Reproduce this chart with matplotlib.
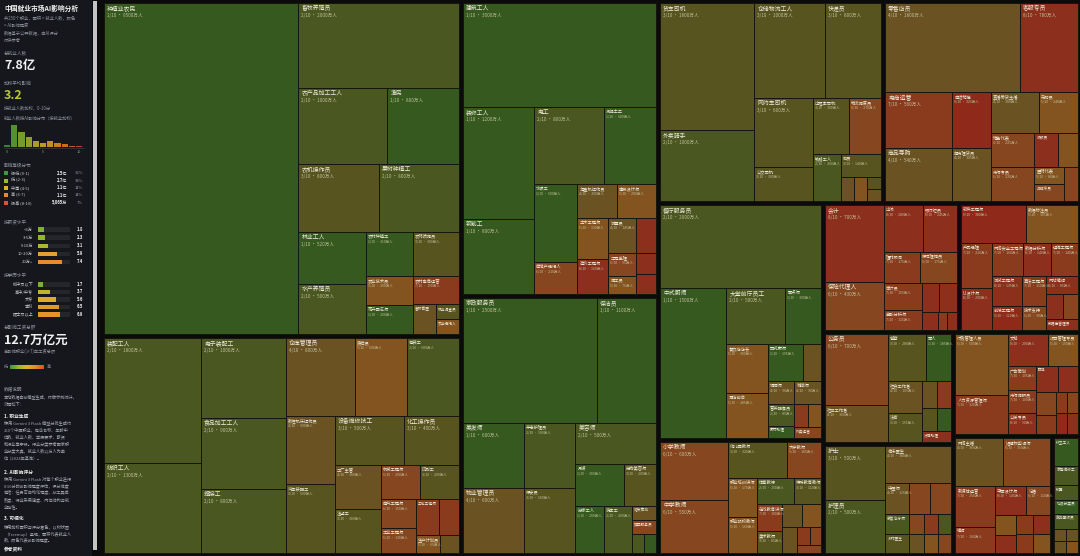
import matplotlib.pyplot as plt
from matplotlib.patches import Rectangle
from matplotlib.colors import LinearSegmentedColormap
import numpy as np

plt.rcParams['font.family'] = ['Noto Sans CJK SC', 'DejaVu Sans']

# ---------------- 数据（万人，AI影响评分 0-10） ----------------
agri_names = ['种植业农民', '畜牧养殖员', '农产品加工工人', '渔民', '农机操作员', '果树种植工', '林业工人', '水产养殖员',
              '农村种植工', '农药喷施员', '农业技术员', '花卉园艺师', '农村电商运营', '畜牧兽医', '林业调查员', '农业经纪人']
agri_scores = [1, 2, 2, 1, 3, 2, 1, 2, 1, 3, 5, 1, 7, 4, 3, 5]
agri_values = [9500, 2000, 1000, 800, 800, 800, 520, 500, 310, 300, 200, 200, 190, 100, 50, 50]

manu_names = ['装配工人', '纺织工人', '电子装配工', '食品加工工人', '焊接工', '仓库管理员', '质检员', '包装工', '数控机床操作员',
              '汽车装配工', '设备维修技工', '化工操作员', '工厂主管', '注塑工', '机械工程师', '印刷工', '电气工程师', '工业工程师',
              '工艺工程师', '模具设计师', '生产计划员', '安全员']
manu_scores = [2, 2, 2, 2, 2, 4, 5, 2, 4, 3, 3, 3, 4, 3, 6, 3, 6, 6, 7, 7, 5, 4]
manu_values = [1800, 1300, 1000, 900, 800, 800, 600, 600, 500, 500, 500, 400, 300, 300, 200, 200, 150, 130, 120, 105, 65, 50]

constr_names = ['建筑工人', '装修工人', '钢筋工', '电工', '混凝土工', '水暖工', '房地产经纪人', '起重机操作员', '建筑设计师',
                '土木工程师', '造价工程师', '测量员', '室内设计师', '工程监理', '施工员', 'BIM工程师', '工程预算员']
constr_scores = [1, 1, 1, 2, 1, 1, 6, 4, 5, 5, 8, 4, 8, 6, 5, 8, 8]
constr_values = [3000, 1200, 800, 800, 600, 500, 210, 200, 200, 190, 160, 145, 105, 95, 75, 60, 60]

serv_names = ['家政服务员', '保洁员', '美发师', '物业管理员', '养老护理员', '保安员', '美容师', '月嫂', '宠物美容师',
              '搬家工人', '洗车工', '婚庆策划', '殡葬服务员', '管道疏通工', '保姆']
serv_scores = [1, 1, 1, 4, 2, 3, 2, 1, 3, 1, 2, 4, 6, 2, 1]
serv_values = [2500, 1100, 600, 600, 500, 500, 500, 300, 200, 200, 200, 50, 50, 35, 35]

trans_names = ['货车司机', '外卖骑手', '仓储物流工人', '快递员', '网约车司机', '公交司机', '出租车司机', '物流调度员',
               '铁路工人', '船员', '航空地勤', '货运代理', '驾校教练', '叉车司机']
trans_scores = [3, 2, 3, 3, 3, 3, 3, 6, 2, 3, 4, 5, 3, 4]
trans_values = [1800, 1000, 1000, 800, 600, 300, 300, 270, 200, 140, 45, 45, 25, 25]

retail_names = ['零售店员', '客服专员', '电商运营', '商品导购', '电话销售', '超市理货员', '直播带货主播', '采购员', '销售代表',
                '市场专员', '收银员', '店长', '医药代表', '品牌专员', '买手']
retail_scores = [4, 8, 7, 4, 9, 4, 4, 5, 6, 6, 8, 5, 5, 6, 6]
retail_values = [1800, 780, 560, 540, 325, 305, 300, 240, 225, 220, 120, 100, 80, 75, 70]

rest_names = ['餐厅服务员', '中式厨师', '大堂前厅员工', '面点师', '餐饮店店长', '酒店前台', '西式厨师', '酒店管理员',
              '调酒师', '咖啡师', '营养配餐员', '厨师助理', '酒店预订员', '餐饮采购', '外卖运营']
rest_scores = [2, 1, 2, 1, 5, 5, 1, 4, 4, 4, 2, 1, 7, 5, 6]
rest_values = [2000, 1500, 500, 300, 300, 285, 195, 95, 90, 90, 85, 50, 50, 45, 45]

edu_names = ['小学教师', '中学教师', '幼儿园教师', '大学教师', '职业培训讲师', '职业院校教师', '体育教练', '特殊教育教师',
             '在线教育讲师', '美术教师', '音乐教师', '少儿编程教师', '家教', '教务管理', '留学顾问', '图书管理员']
edu_scores = [6, 6, 3, 6, 5, 5, 2, 3, 7, 3, 4, 5, 4, 7, 6, 6]
edu_values = [600, 550, 320, 185, 170, 160, 150, 110, 100, 85, 70, 65, 60, 35, 30, 30]

fin_names = ['会计', '保险代理人', '出纳', '银行柜员', '理财顾问', '保险理赔员', '审计员', '金融分析师', '信贷员',
             '证券经纪人', '税务专员', '精算师', '统计员']
fin_scores = [8, 6, 8, 8, 7, 6, 7, 7, 8, 8, 8, 7, 8]
fin_values = [700, 430, 280, 245, 175, 175, 155, 115, 75, 75, 45, 25, 25]

it_names = ['软件工程师', '数据标注员', '产品经理', 'UI设计师', '网络安全工程师', '数据分析师', '运维工程师', '测试工程师',
            '前端工程师', '算法工程师', '技术支持', '网站编辑', '全栈开发', 'IT项目经理', '数据库管理员']
it_scores = [9, 5, 7, 8, 7, 8, 7, 8, 9, 7, 6, 8, 8, 6, 8]
it_values = [380, 305, 220, 200, 160, 140, 140, 135, 110, 110, 90, 85, 65, 60, 50]

pub_names = ['公务员', '社区工作者', '警察', '军人', '社会工作者', '法官', '综合执法员', '档案管理员', '村干部', '消防员', '法律助理']
pub_scores = [6, 4, 3, 1, 4, 3, 4, 7, 3, 1, 8]
pub_values = [700, 360, 280, 185, 165, 155, 60, 60, 55, 50, 50]

med_names = ['护士', '护理员', '临床医生', '中医师', '药剂师', '医学检验师', '康复治疗师', '乡村医生', '影像医师',
             '口腔医生', '医院行政', '护工', '心理咨询师', '医疗器械销售']
med_scores = [3, 2, 4, 4, 6, 6, 2, 3, 6, 4, 7, 2, 5, 6]
med_values = [500, 500, 380, 115, 100, 100, 70, 70, 45, 45, 45, 40, 40, 40]

adm_names = ['行政管理人员', '人力资源管理师', '文秘', '项目管理专员', '广告策划', '市场调研员', '公关专员', '翻译',
             '办公室文员', '前台接待', '招聘专员', '法务专员', '培训专员', '速记员', '档案员']
adm_scores = [5, 7, 8, 5, 7, 7, 8, 8, 8, 6, 7, 7, 6, 9, 8]
adm_values = [500, 320, 200, 150, 105, 100, 90, 90, 80, 70, 60, 35, 35, 35, 35]

media_names = ['网络主播', '短视频剪辑师', '新媒体运营', '编辑', '平面设计师', '记者', '摄影师', '文案策划', '配音员',
               '插画师', '动画师', '主持人']
media_scores = [4, 6, 7, 7, 8, 6, 5, 8, 7, 8, 7, 5]
media_values = [360, 350, 250, 160, 145, 110, 65, 60, 50, 50, 50, 50]

other_names = ['环卫工人', '家电维修工', '锁匠', '垃圾分类员', '废品回收员', '修鞋匠', '裁缝', '钟表维修', '保管员']
other_scores = [1, 2, 2, 1, 2, 4, 4, 4, 5]
other_values = [115, 80, 60, 60, 60, 25, 25, 25, 25]

groups = [
    (agri_names, agri_scores, agri_values),
    (manu_names, manu_scores, manu_values),
    (constr_names, constr_scores, constr_values),
    (serv_names, serv_scores, serv_values),
    (trans_names, trans_scores, trans_values),
    (retail_names, retail_scores, retail_values),
    (rest_names, rest_scores, rest_values),
    (edu_names, edu_scores, edu_values),
    (fin_names, fin_scores, fin_values),
    (it_names, it_scores, it_values),
    (pub_names, pub_scores, pub_values),
    (med_names, med_scores, med_values),
    (adm_names, adm_scores, adm_values),
    (media_names, media_scores, media_values),
    (other_names, other_scores, other_values),
]

# 侧栏数据
hist_share = [3, 30, 20, 13, 8, 6, 8, 6, 4, 2, 1]
risk_labels = ['极低 (0-1)', '低 (2-3)', '中等 (4-5)', '高 (6-7)', '极高 (8-10)']
risk_people = ['2.5亿', '2.7亿', '1.1亿', '1.1亿', '5,065万']
risk_pct = ['32%', '34%', '14%', '14%', '7%']
salary_labels = ['<3万', '3-5万', '5-10万', '10-20万', '20万+']
salary_scores = [1.8, 2.3, 3.1, 5.9, 7.4]
edu_level_labels = ['初中及以下', '高中/中专', '大专', '本科', '硕士及以上']
edu_level_scores = [1.7, 3.7, 5.6, 6.5, 6.9]

# 颜色
tile_cmap = LinearSegmentedColormap.from_list('tile', [
    '#2f5a1e', '#35591f', '#4a5720', '#585420', '#6a5222', '#83541f',
    '#86461f', '#8a3a1d', '#8c2f1c', '#8f2a1b', '#922619'])
side_cmap = LinearSegmentedColormap.from_list('side', ['#3d9a3a', '#9ab92e', '#e0b030', '#e88a2a', '#e0502a'])
risk_colors = ['#3d9a3a', '#9ab92e', '#e0b030', '#e88a2a', '#e0502a']


def worst(row, side):
    s = sum(row)
    return max(side * side * max(row) / (s * s), s * s / (side * side * min(row)))


def squarify(values, x, y, w, h):
    order = sorted(range(len(values)), key=lambda i: -values[i])
    total = float(sum(values))
    areas = [values[i] * w * h / total for i in order]
    out = {}
    i = 0
    while i < len(order):
        side = min(w, h)
        row = [areas[i]]
        best = worst(row, side)
        j = i + 1
        while j < len(order):
            cand = row + [areas[j]]
            s = worst(cand, side)
            if s > best:
                break
            row, best = cand, s
            j += 1
        if j >= len(order):
            t = w * h / side
        else:
            t = sum(row) / side
        if side == w:
            xx = x
            for k, a in enumerate(row):
                ww = a / t
                out[order[i + k]] = (xx, y, ww, t)
                xx += ww
            y += t
            h -= t
        else:
            yy = y
            for k, a in enumerate(row):
                hh = a / t
                out[order[i + k]] = (x, yy, t, hh)
                yy += hh
            x += t
            w -= t
        i = j
    return [out[k] for k in range(len(values))]


fig = plt.figure(figsize=(10.8, 5.56), dpi=100, facecolor='#0b0b0c')
ax = fig.add_axes([0, 0, 1, 1])
ax.set_xlim(0, 1080)
ax.set_ylim(556, 0)
ax.axis('off')
ax.set_facecolor('#0b0b0c')

# ---------------- treemap ----------------
totals = [sum(g[2]) for g in groups]
group_rects = squarify(totals, 102, 1, 978, 554)
for (names, scores, values), (gx, gy, gw, gh) in zip(groups, group_rects):
    gx, gy, gw, gh = gx + 2, gy + 2, gw - 4, gh - 4
    for name, s, v, (x, y, w, h) in zip(names, scores, values, squarify(values, gx, gy, gw, gh)):
        r = Rectangle((x, y), w, h, facecolor=tile_cmap(s / 10), edgecolor='#16160f', lw=0.7)
        ax.add_patch(r)
        sub = f'{s}/10 · {v}万人'
        if w >= 55 and h >= 40:
            t1 = ax.text(x + 3, y + 5.5, name, fontsize=4.2, color='#efeada', va='center', ha='left')
            t2 = ax.text(x + 3, y + 12.5, sub, fontsize=3.3, color='#c2bf9c', va='center', ha='left')
            t1.set_clip_path(r)
            t2.set_clip_path(r)
        elif w >= 24 and h >= 17:
            t1 = ax.text(x + 2, y + 4.5, name, fontsize=3.1, color='#efeada', va='center', ha='left')
            t2 = ax.text(x + 2, y + 9.5, sub, fontsize=2.5, color='#c2bf9c', va='center', ha='left')
            t1.set_clip_path(r)
            t2.set_clip_path(r)
        elif w >= 22 and h >= 10:
            t1 = ax.text(x + 2, y + 4.5, name, fontsize=2.7, color='#efeada', va='center', ha='left')
            t1.set_clip_path(r)

# ---------------- 侧栏 ----------------
ax.add_patch(Rectangle((0, 0), 92, 556, facecolor='#15171c', lw=0))
ax.add_patch(Rectangle((92.5, 1), 4, 549, facecolor='#c4c4c4', lw=0))

white = '#f2f2f2'
grey = '#8d909a'
ax.text(4, 8.5, '中国就业市场AI影响分析', fontsize=4.9, color=white, fontweight='bold', va='center')
sub_lines = ['共250个职业，面积 = 就业人数，颜色', '= AI影响程度', '数据基于公开数据，由AI评分', '仅供参考']
for yy, t in zip([18, 25, 33, 40], sub_lines):
    ax.text(4, yy, t, fontsize=3.1, color=grey, va='center')

ax.text(4, 53, '总就业人数', fontsize=3.3, color=grey, va='center')
ax.text(4, 66, '7.8亿', fontsize=9, color=white, fontweight='bold', va='center')
ax.text(4, 83, '加权平均影响', fontsize=3.3, color=grey, va='center')
ax.text(4, 95.5, '3.2', fontsize=9, color='#b8c83c', fontweight='bold', va='center')
ax.text(4, 107.5, '按就业人数加权，0-10分', fontsize=3.1, color=grey, va='center')
ax.text(4, 118.5, '就业人数按AI影响分布（按就业加权）', fontsize=3.1, color=grey, va='center')

# 直方图
base = 147
hmax = max(hist_share)
for k, hv in enumerate(hist_share):
    bh = 22 * hv / hmax
    ax.add_patch(Rectangle((4 + k * 7.2, base - bh), 6.2, bh, facecolor=side_cmap(k / 10), lw=0, alpha=0.85))
ax.plot([4, 84], [base + 0.5, base + 0.5], color='#3a3d45', lw=0.5)
for k in [0, 5, 10]:
    ax.text(4 + k * 7.2 + 3.1, 152, str(k), fontsize=2.8, color=grey, ha='center', va='center')

ax.text(4, 165, '影响等级分布', fontsize=3.3, color=grey, va='center')
for k, (lab, ppl, pct) in enumerate(zip(risk_labels, risk_people, risk_pct)):
    yy = 173.3 + k * 7.3
    ax.add_patch(Rectangle((4, yy - 2), 4, 4, facecolor=risk_colors[k], lw=0))
    ax.text(11, yy, lab, fontsize=3.0, color='#c8cad0', va='center')
    ax.text(67, yy, ppl, fontsize=3.0, color=white, fontweight='bold', va='center', ha='right')
    ax.text(83, yy, pct, fontsize=3.0, color=grey, va='center', ha='right')

ax.text(4, 222, '按薪资水平', fontsize=3.3, color=grey, va='center')
for k, (lab, sc) in enumerate(zip(salary_labels, salary_scores)):
    yy = 229.5 + k * 8.1
    ax.text(33, yy, lab, fontsize=3.0, color='#c8cad0', va='center', ha='right')
    ax.add_patch(Rectangle((38, yy - 2.2), 32, 4.4, facecolor='#24262c', lw=0))
    ax.add_patch(Rectangle((38, yy - 2.2), sc * 3.2, 4.4, facecolor=side_cmap(sc / 10), lw=0))
    ax.text(83, yy, f'{sc:.1f}', fontsize=3.0, color=white, fontweight='bold', va='center', ha='right')

ax.text(4, 275, '按学历水平', fontsize=3.3, color=grey, va='center')
for k, (lab, sc) in enumerate(zip(edu_level_labels, edu_level_scores)):
    yy = 284.3 + k * 7.5
    ax.text(33, yy, lab, fontsize=3.0, color='#c8cad0', va='center', ha='right')
    ax.add_patch(Rectangle((38, yy - 2.2), 32, 4.4, facecolor='#24262c', lw=0))
    ax.add_patch(Rectangle((38, yy - 2.2), sc * 3.2, 4.4, facecolor=side_cmap(sc / 10), lw=0))
    ax.text(83, yy, f'{sc:.1f}', fontsize=3.0, color=white, fontweight='bold', va='center', ha='right')

ax.text(4, 328, '总影响工资总额', fontsize=3.3, color=grey, va='center')
ax.text(4, 340, '12.7万亿元', fontsize=9, color=white, fontweight='bold', va='center')
ax.text(4, 351.5, '高影响职业(≥7)年工资总额', fontsize=3.1, color=grey, va='center')
grad = np.linspace(0, 1, 100).reshape(1, -1)
ax.imshow(grad, cmap=side_cmap, extent=(10, 44, 369, 365.5), aspect='auto', zorder=3)
ax.text(4, 367, '低', fontsize=3.0, color=grey, va='center')
ax.text(47, 367, '高', fontsize=3.0, color=grey, va='center')
ax.set_xlim(0, 1080)
ax.set_ylim(556, 0)

body = '#a3a6ae'
ax.text(4, 389, '数据说明', fontsize=3.3, color=grey, va='center')
notes = [
    (397, '本站数据由AI模型生成，仅做示例统计，', False),
    (404.5, '流程如下：', False),
    (416, '1. 职业生成', True),
    (423, '使用 Gemini 3 Flash 模型分批生成约', False),
    (430, '250个中国职业，包含名称、年龄中', False),
    (437, '位数、就业人数、学历要求、薪资', False),
    (444, '和行业等字段。行业分类参考国家职', False),
    (451, '业分类大典，就业人数以万人为单', False),
    (458.5, '位（2024年基准）。', False),
    (472, '2. AI影响评分', True),
    (479, '使用 Gemini 3 Flash 对每个职业进行', False),
    (486, '0-10分的AI影响程度评估，评分维度', False),
    (493, '包括：任务可自动化程度、AI工具成', False),
    (500, '熟度、行业采用速度、岗位结构与就', False),
    (507, '业弹性。', False),
    (518, '3. 可视化', True),
    (527, '使用加权面积与评分着色，以树状图', False),
    (534, '（Treemap）呈现，面积代表就业人', False),
    (541, '数，颜色代表AI影响程度。', False),
    (549, '参考资料', True),
]
for yy, t, bold in notes:
    if bold:
        ax.text(4, yy, t, fontsize=3.4, color=white, fontweight='bold', va='center')
    else:
        ax.text(4, yy, t, fontsize=3.0, color=body, va='center')

fig.savefig('out.png', dpi=100, facecolor=fig.get_facecolor())
